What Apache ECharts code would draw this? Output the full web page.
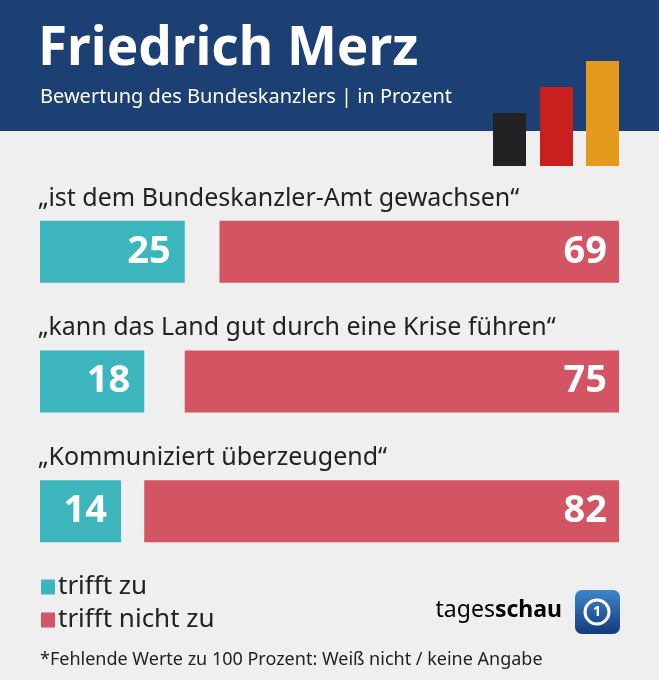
<!DOCTYPE html>
<html>
<head>
<meta charset="utf-8">
<script src="https://cdn.jsdelivr.net/npm/echarts@6/dist/echarts.min.js"></script>
<style>
  html, body { margin: 0; padding: 0; background: #efefef; }
  #chart { width: 659px; height: 680px; }
</style>
</head>
<body>
<div id="chart"></div>
<script>
// Umfragewerte (Prozent)
const categories = [
  '„ist dem Bundeskanzler-Amt gewachsen“',
  '„kann das Land gut durch eine Krise führen“',
  '„Kommuniziert überzeugend“'
];
const trifftZu = [25, 18, 14];
const trifftNichtZu = [69, 75, 82];
const rest = trifftZu.map((v, i) => 100 - v - trifftNichtZu[i]);

const teal = '#3cb5bc';
const red = '#d35462';
const font = '"Noto Sans", sans-serif';

const chart = echarts.init(document.getElementById('chart'));

// Fragen über den Balken
const questionTexts = categories.map((c, i) => ({
  type: 'text',
  left: 38,
  top: 186 + i * 129.5,
  style: { text: c, fontSize: 25, fill: '#222', fontFamily: font }
}));

const option = {
  backgroundColor: '#efefef',
  animation: false,
  grid: { left: 40, right: 40, top: 187, bottom: 104 },
  xAxis: { type: 'value', min: 0, max: 100, show: false },
  yAxis: { type: 'category', data: categories, inverse: true, show: false },
  legend: {
    orient: 'vertical',
    left: 36,
    top: 569,
    itemWidth: 14,
    itemHeight: 15,
    itemGap: 7,
    icon: 'rect',
    textStyle: { fontSize: 26, color: '#222', fontFamily: font, padding: [0, 0, 0, -2] },
    data: ['trifft zu', 'trifft nicht zu']
  },
  series: [
    {
      name: 'trifft zu', type: 'bar', stack: 'a', barWidth: 62,
      itemStyle: { color: teal },
      label: { show: true, position: 'insideRight', distance: 14, color: '#fff',
        fontSize: 38, fontWeight: 'bold', fontFamily: font },
      data: trifftZu
    },
    {
      name: 'rest', type: 'bar', stack: 'a', barWidth: 62,
      itemStyle: { color: 'rgba(0,0,0,0)' },
      data: rest
    },
    {
      name: 'trifft nicht zu', type: 'bar', stack: 'a', barWidth: 62,
      itemStyle: { color: red },
      label: { show: true, position: 'insideRight', distance: 12, color: '#fff',
        fontSize: 38, fontWeight: 'bold', fontFamily: font },
      data: trifftNichtZu
    }
  ],
  graphic: [
    { type: 'rect', shape: { x: 0, y: 0, width: 659, height: 131 }, style: { fill: '#1c3f74' }, z: -1 },
    { type: 'text', left: 38, top: 23, style: { text: 'Friedrich Merz', fontSize: 53, fontWeight: 'bold', fill: '#fff', fontFamily: font } },
    { type: 'text', left: 40, top: 87, style: { text: 'Bewertung des Bundeskanzlers | in Prozent', fontSize: 20, fill: '#fff', fontFamily: font } },
    // Deko-Balken schwarz-rot-gold
    { type: 'rect', shape: { x: 493, y: 113, width: 33, height: 53 }, style: { fill: '#222' } },
    { type: 'rect', shape: { x: 540, y: 87, width: 33, height: 79 }, style: { fill: '#c8201f' } },
    { type: 'rect', shape: { x: 586, y: 61, width: 33, height: 105 }, style: { fill: '#e39a1d' } },
    ...questionTexts,
    // tagesschau Logo
    { type: 'text', x: 562, y: 610, style: { rich: {
        a: { fontSize: 23, color: '#3a3a3a', fontFamily: font },
        b: { fontSize: 23, color: '#3a3a3a', fontWeight: 'bold', fontFamily: font }
      }, text: '{a|tages}{b|schau}', align: 'right', verticalAlign: 'middle' } },
    { type: 'rect', shape: { x: 575, y: 590, width: 45, height: 44, r: 7 },
      style: { fill: new echarts.graphic.LinearGradient(0, 0, 0, 1, [
        { offset: 0, color: '#3d86c9' }, { offset: 1, color: '#173a7a' }]) } },
    { type: 'circle', shape: { cx: 597, cy: 612, r: 12 }, style: { fill: 'none', stroke: '#fff', lineWidth: 3 } },
    { type: 'text', x: 597, y: 612, style: { text: '1', fontSize: 15, fontWeight: 'bold', fill: '#fff', align: 'center', verticalAlign: 'middle', fontFamily: font } },
    { type: 'text', left: 40, top: 651, style: { text: '*Fehlende Werte zu 100 Prozent: Weiß nicht / keine Angabe', fontSize: 18, fill: '#222', fontFamily: font } }
  ]
};

chart.setOption(option);
</script>
</body>
</html>
